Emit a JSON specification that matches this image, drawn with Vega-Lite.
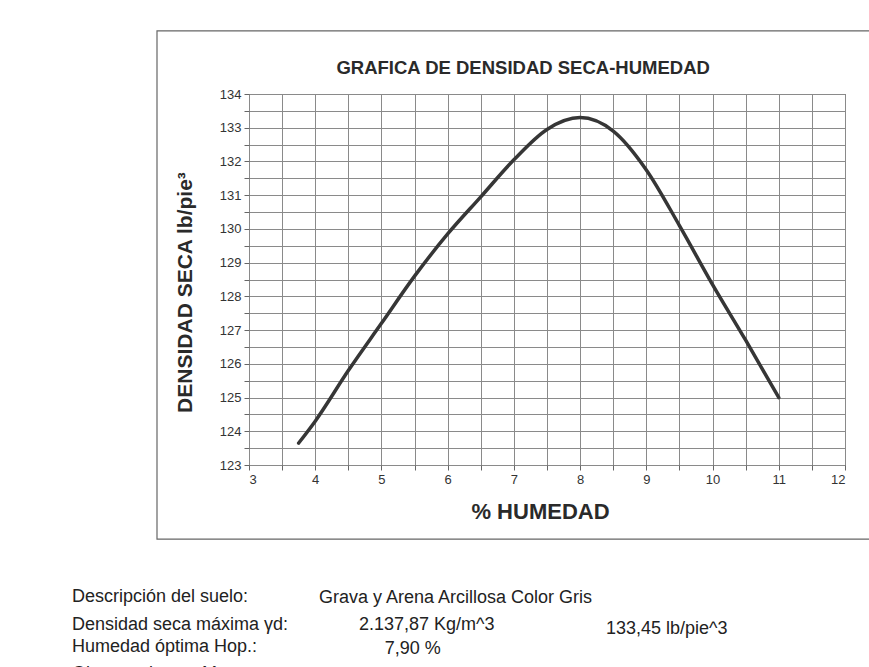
{
  "$schema": "https://vega.github.io/schema/vega-lite/v6.json",
  "autosize": "none",
  "width": 596,
  "height": 371,
  "padding": {"left": 249, "top": 94, "right": 24, "bottom": 202},
  "background": "white",
  "config": {
    "font": "Liberation Sans",
    "view": {"stroke": "#555", "strokeWidth": 1},
    "axis": {
      "labelFont": "Liberation Sans",
      "titleFont": "Liberation Sans",
      "labelColor": "#333",
      "titleColor": "#2a2a2a",
      "gridColor": "#8a8a8a",
      "gridWidth": 1,
      "gridOpacity": 1,
      "domain": false,
      "tickColor": "#666",
      "tickSize": 5,
      "labelOverlap": false,
      "labelFontSize": 13,
      "labelPadding": 3,
      "titleFontWeight": "bold"
    },
    "axisX": {"titleFontSize": 22, "titleX": 291, "titleY": 53, "titleBaseline": "alphabetic"},
    "axisY": {"titleFontSize": 21, "titleX": -64, "titleY": 198, "titleAngle": -90, "titleAlign": "center", "titleBaseline": "middle"}
  },
  "data": {
    "values": [
      {"humedad": 3.75, "densidad": 123.65},
      {"humedad": 4.0, "densidad": 124.3},
      {"humedad": 4.5, "densidad": 125.8},
      {"humedad": 5.0, "densidad": 127.2},
      {"humedad": 5.5, "densidad": 128.6},
      {"humedad": 6.0, "densidad": 129.85},
      {"humedad": 6.5, "densidad": 130.95},
      {"humedad": 7.0, "densidad": 132.05},
      {"humedad": 7.5, "densidad": 132.95},
      {"humedad": 8.0, "densidad": 133.3},
      {"humedad": 8.5, "densidad": 132.9},
      {"humedad": 9.0, "densidad": 131.75},
      {"humedad": 9.5, "densidad": 130.1},
      {"humedad": 10.0, "densidad": 128.35},
      {"humedad": 10.5, "densidad": 126.7},
      {"humedad": 11.0, "densidad": 125.0}
    ]
  },
  "layer": [
    {
      "mark": {"type": "line", "interpolate": "monotone", "color": "#363636", "strokeWidth": 3.5, "strokeCap": "round"},
      "encoding": {
        "x": {"field": "humedad", "type": "quantitative", "scale": {"domain": [3, 12], "nice": false, "zero": false},
          "axis": {"title": "% HUMEDAD", "values": [3, 3.5, 4, 4.5, 5, 5.5, 6, 6.5, 7, 7.5, 8, 8.5, 9, 9.5, 10, 10.5, 11, 11.5, 12], "labelExpr": "datum.value % 1 == 0 ? format(datum.value, 'd') : ''"}},
        "y": {"field": "densidad", "type": "quantitative", "scale": {"domain": [123, 134], "nice": false, "zero": false},
          "axis": {"title": "DENSIDAD SECA  lb/pie³", "values": [123, 123.5, 124, 124.5, 125, 125.5, 126, 126.5, 127, 127.5, 128, 128.5, 129, 129.5, 130, 130.5, 131, 131.5, 132, 132.5, 133, 133.5, 134], "labelExpr": "datum.value % 1 == 0 ? format(datum.value, 'd') : ''"}}
      }
    },
    {
      "data": {"values": [{}]},
      "mark": {"type": "rect", "fill": null, "fillOpacity": 0, "stroke": "#666", "strokeWidth": 1.2, "clip": false},
      "encoding": {
        "x": {"datum": 1.6107, "type": "quantitative",
          "axis": {"title": "% HUMEDAD", "values": [3, 3.5, 4, 4.5, 5, 5.5, 6, 6.5, 7, 7.5, 8, 8.5, 9, 9.5, 10, 10.5, 11, 11.5, 12], "labelExpr": "datum.value % 1 == 0 ? format(datum.value, 'd') : ''"}},
        "x2": {"datum": 12.53},
        "y": {"datum": 135.87, "type": "quantitative",
          "axis": {"title": "DENSIDAD SECA  lb/pie³", "values": [123, 123.5, 124, 124.5, 125, 125.5, 126, 126.5, 127, 127.5, 128, 128.5, 129, 129.5, 130, 130.5, 131, 131.5, 132, 132.5, 133, 133.5, 134], "labelExpr": "datum.value % 1 == 0 ? format(datum.value, 'd') : ''"}},
        "y2": {"datum": 120.8}
      }
    },
    {
      "data": {"values": [
        {"t": "GRAFICA DE DENSIDAD SECA-HUMEDAD"}
      ]},
      "mark": {"type": "text", "align": "center", "baseline": "middle", "fontSize": 18.5, "fontWeight": "bold", "color": "#2a2a2a", "clip": false},
      "encoding": {
        "text": {"field": "t"},
        "x": {"datum": 7.14, "type": "quantitative",
          "axis": {"title": "% HUMEDAD", "values": [3, 3.5, 4, 4.5, 5, 5.5, 6, 6.5, 7, 7.5, 8, 8.5, 9, 9.5, 10, 10.5, 11, 11.5, 12], "labelExpr": "datum.value % 1 == 0 ? format(datum.value, 'd') : ''"}},
        "y": {"datum": 134.77, "type": "quantitative",
          "axis": {"title": "DENSIDAD SECA  lb/pie³", "values": [123, 123.5, 124, 124.5, 125, 125.5, 126, 126.5, 127, 127.5, 128, 128.5, 129, 129.5, 130, 130.5, 131, 131.5, 132, 132.5, 133, 133.5, 134], "labelExpr": "datum.value % 1 == 0 ? format(datum.value, 'd') : ''"}}
      }
    },
    {
      "data": {"values": [{"t": "Descripción del suelo:"}]},
      "mark": {"type": "text", "align": "left", "baseline": "middle", "fontSize": 18, "color": "#222", "clip": false},
      "encoding": {
        "text": {"field": "t"},
        "x": {"datum": 0.327, "type": "quantitative",
          "axis": {"title": "% HUMEDAD", "values": [3, 3.5, 4, 4.5, 5, 5.5, 6, 6.5, 7, 7.5, 8, 8.5, 9, 9.5, 10, 10.5, 11, 11.5, 12], "labelExpr": "datum.value % 1 == 0 ? format(datum.value, 'd') : ''"}},
        "y": {"datum": 119.1, "type": "quantitative",
          "axis": {"title": "DENSIDAD SECA  lb/pie³", "values": [123, 123.5, 124, 124.5, 125, 125.5, 126, 126.5, 127, 127.5, 128, 128.5, 129, 129.5, 130, 130.5, 131, 131.5, 132, 132.5, 133, 133.5, 134], "labelExpr": "datum.value % 1 == 0 ? format(datum.value, 'd') : ''"}}
      }
    },
    {
      "data": {"values": [{"t": "Grava y Arena Arcillosa Color Gris"}]},
      "mark": {"type": "text", "align": "left", "baseline": "middle", "fontSize": 18, "color": "#222", "clip": false},
      "encoding": {
        "text": {"field": "t"},
        "x": {"datum": 4.057, "type": "quantitative",
          "axis": {"title": "% HUMEDAD", "values": [3, 3.5, 4, 4.5, 5, 5.5, 6, 6.5, 7, 7.5, 8, 8.5, 9, 9.5, 10, 10.5, 11, 11.5, 12], "labelExpr": "datum.value % 1 == 0 ? format(datum.value, 'd') : ''"}},
        "y": {"datum": 119.07, "type": "quantitative",
          "axis": {"title": "DENSIDAD SECA  lb/pie³", "values": [123, 123.5, 124, 124.5, 125, 125.5, 126, 126.5, 127, 127.5, 128, 128.5, 129, 129.5, 130, 130.5, 131, 131.5, 132, 132.5, 133, 133.5, 134], "labelExpr": "datum.value % 1 == 0 ? format(datum.value, 'd') : ''"}}
      }
    },
    {
      "data": {"values": [{"t": "Densidad seca máxima γd:"}]},
      "mark": {"type": "text", "align": "left", "baseline": "middle", "fontSize": 18, "color": "#222", "clip": false},
      "encoding": {
        "text": {"field": "t"},
        "x": {"datum": 0.327, "type": "quantitative",
          "axis": {"title": "% HUMEDAD", "values": [3, 3.5, 4, 4.5, 5, 5.5, 6, 6.5, 7, 7.5, 8, 8.5, 9, 9.5, 10, 10.5, 11, 11.5, 12], "labelExpr": "datum.value % 1 == 0 ? format(datum.value, 'd') : ''"}},
        "y": {"datum": 118.27, "type": "quantitative",
          "axis": {"title": "DENSIDAD SECA  lb/pie³", "values": [123, 123.5, 124, 124.5, 125, 125.5, 126, 126.5, 127, 127.5, 128, 128.5, 129, 129.5, 130, 130.5, 131, 131.5, 132, 132.5, 133, 133.5, 134], "labelExpr": "datum.value % 1 == 0 ? format(datum.value, 'd') : ''"}}
      }
    },
    {
      "data": {"values": [{"t": "2.137,87 Kg/m^3"}]},
      "mark": {"type": "text", "align": "left", "baseline": "middle", "fontSize": 18, "color": "#222", "clip": false},
      "encoding": {
        "text": {"field": "t"},
        "x": {"datum": 4.66, "type": "quantitative",
          "axis": {"title": "% HUMEDAD", "values": [3, 3.5, 4, 4.5, 5, 5.5, 6, 6.5, 7, 7.5, 8, 8.5, 9, 9.5, 10, 10.5, 11, 11.5, 12], "labelExpr": "datum.value % 1 == 0 ? format(datum.value, 'd') : ''"}},
        "y": {"datum": 118.27, "type": "quantitative",
          "axis": {"title": "DENSIDAD SECA  lb/pie³", "values": [123, 123.5, 124, 124.5, 125, 125.5, 126, 126.5, 127, 127.5, 128, 128.5, 129, 129.5, 130, 130.5, 131, 131.5, 132, 132.5, 133, 133.5, 134], "labelExpr": "datum.value % 1 == 0 ? format(datum.value, 'd') : ''"}}
      }
    },
    {
      "data": {"values": [{"t": "133,45 lb/pie^3"}]},
      "mark": {"type": "text", "align": "left", "baseline": "middle", "fontSize": 18, "color": "#222", "clip": false},
      "encoding": {
        "text": {"field": "t"},
        "x": {"datum": 8.39, "type": "quantitative",
          "axis": {"title": "% HUMEDAD", "values": [3, 3.5, 4, 4.5, 5, 5.5, 6, 6.5, 7, 7.5, 8, 8.5, 9, 9.5, 10, 10.5, 11, 11.5, 12], "labelExpr": "datum.value % 1 == 0 ? format(datum.value, 'd') : ''"}},
        "y": {"datum": 118.15, "type": "quantitative",
          "axis": {"title": "DENSIDAD SECA  lb/pie³", "values": [123, 123.5, 124, 124.5, 125, 125.5, 126, 126.5, 127, 127.5, 128, 128.5, 129, 129.5, 130, 130.5, 131, 131.5, 132, 132.5, 133, 133.5, 134], "labelExpr": "datum.value % 1 == 0 ? format(datum.value, 'd') : ''"}}
      }
    },
    {
      "data": {"values": [{"t": "Humedad óptima Hop.:"}]},
      "mark": {"type": "text", "align": "left", "baseline": "middle", "fontSize": 18, "color": "#222", "clip": false},
      "encoding": {
        "text": {"field": "t"},
        "x": {"datum": 0.327, "type": "quantitative",
          "axis": {"title": "% HUMEDAD", "values": [3, 3.5, 4, 4.5, 5, 5.5, 6, 6.5, 7, 7.5, 8, 8.5, 9, 9.5, 10, 10.5, 11, 11.5, 12], "labelExpr": "datum.value % 1 == 0 ? format(datum.value, 'd') : ''"}},
        "y": {"datum": 117.59, "type": "quantitative",
          "axis": {"title": "DENSIDAD SECA  lb/pie³", "values": [123, 123.5, 124, 124.5, 125, 125.5, 126, 126.5, 127, 127.5, 128, 128.5, 129, 129.5, 130, 130.5, 131, 131.5, 132, 132.5, 133, 133.5, 134], "labelExpr": "datum.value % 1 == 0 ? format(datum.value, 'd') : ''"}}
      }
    },
    {
      "data": {"values": [{"t": "7,90 %"}]},
      "mark": {"type": "text", "align": "left", "baseline": "middle", "fontSize": 18, "color": "#222", "clip": false},
      "encoding": {
        "text": {"field": "t"},
        "x": {"datum": 5.05, "type": "quantitative",
          "axis": {"title": "% HUMEDAD", "values": [3, 3.5, 4, 4.5, 5, 5.5, 6, 6.5, 7, 7.5, 8, 8.5, 9, 9.5, 10, 10.5, 11, 11.5, 12], "labelExpr": "datum.value % 1 == 0 ? format(datum.value, 'd') : ''"}},
        "y": {"datum": 117.54, "type": "quantitative",
          "axis": {"title": "DENSIDAD SECA  lb/pie³", "values": [123, 123.5, 124, 124.5, 125, 125.5, 126, 126.5, 127, 127.5, 128, 128.5, 129, 129.5, 130, 130.5, 131, 131.5, 132, 132.5, 133, 133.5, 134], "labelExpr": "datum.value % 1 == 0 ? format(datum.value, 'd') : ''"}}
      }
    },
    {
      "data": {"values": [{"t": "Observaciones:     Muestra"}]},
      "mark": {"type": "text", "align": "left", "baseline": "middle", "fontSize": 18, "color": "#222", "clip": false},
      "encoding": {
        "text": {"field": "t"},
        "x": {"datum": 0.327, "type": "quantitative",
          "axis": {"title": "% HUMEDAD", "values": [3, 3.5, 4, 4.5, 5, 5.5, 6, 6.5, 7, 7.5, 8, 8.5, 9, 9.5, 10, 10.5, 11, 11.5, 12], "labelExpr": "datum.value % 1 == 0 ? format(datum.value, 'd') : ''"}},
        "y": {"datum": 116.8, "type": "quantitative",
          "axis": {"title": "DENSIDAD SECA  lb/pie³", "values": [123, 123.5, 124, 124.5, 125, 125.5, 126, 126.5, 127, 127.5, 128, 128.5, 129, 129.5, 130, 130.5, 131, 131.5, 132, 132.5, 133, 133.5, 134], "labelExpr": "datum.value % 1 == 0 ? format(datum.value, 'd') : ''"}}
      }
    }
  ]
}
